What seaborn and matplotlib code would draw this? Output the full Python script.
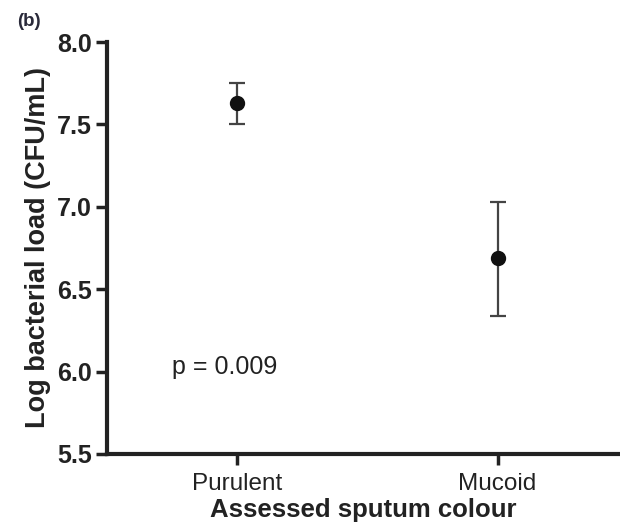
import matplotlib
matplotlib.use("Agg")
import matplotlib.pyplot as plt
import seaborn as sns
import numpy as np
import pandas as pd

categories = ["Purulent", "Mucoid"]
means = [7.63, 6.69]
upper = [7.75, 7.03]
lower = [7.50, 6.34]
yticks = [5.5, 6.0, 6.5, 7.0, 7.5, 8.0]

sns.set_theme(style="ticks")
plt.rcParams['font.family'] = ['Liberation Sans', 'DejaVu Sans']

fig = plt.figure(figsize=(6.2, 5.29), dpi=100)
ax = fig.add_axes([0.1726, 0.1418, 0.8274, 0.7788])

df = pd.DataFrame({"colour": categories, "load": means})
sns.pointplot(data=df, x="colour", y="load", linestyle="none", color="#111111",
              markers="o", markersize=9, errorbar=None, ax=ax)
err = np.array([np.array(means) - np.array(lower), np.array(upper) - np.array(means)])
ax.errorbar(np.arange(len(categories)), means, yerr=err, fmt="none",
            ecolor="#444444", elinewidth=1.6, capsize=5.5, capthick=1.6, zorder=1)

ax.set_xlim(-0.5, 1.47)
ax.set_ylim(5.5, 8.0)
ax.set_yticks(yticks)
ax.set_yticklabels([f"{v:.1f}" for v in yticks], fontweight="bold", fontsize=18)
ax.tick_params(axis="x", labelsize=17.5, length=8, width=2.5, color="#222222", pad=6,
               labelcolor="#222222")
ax.tick_params(axis="y", length=8, width=2.5, color="#222222", pad=3, labelcolor="#222222")
for s in ["top", "right"]:
    ax.spines[s].set_visible(False)
for s in ["left", "bottom"]:
    ax.spines[s].set_linewidth(3)
    ax.spines[s].set_color("#222222")
ax.spines["left"].set_bounds(5.5, 8.0)

ax.set_xlabel("Assessed sputum colour", fontweight="bold", fontsize=18.5, color="#222222", labelpad=2)
ax.set_ylabel("Log bacterial load (CFU/mL)", fontweight="bold", fontsize=19.5, color="#222222", labelpad=4)

ax.text(0.127, 0.211, "p = 0.009", transform=ax.transAxes, fontsize=18, color="#222222",
        ha="left", va="center")
fig.text(0.027, 0.96, "(b)", fontweight="bold", fontsize=13.5, color="#2a2a3a", ha="left", va="center")

fig.savefig("out.png", dpi=100)
